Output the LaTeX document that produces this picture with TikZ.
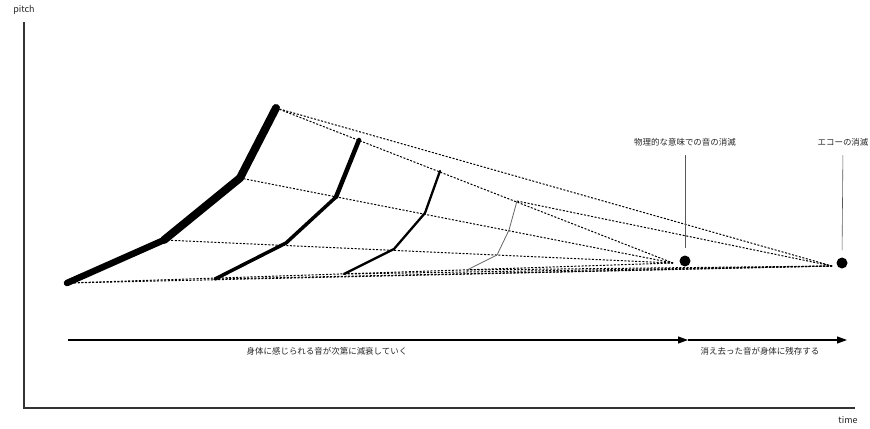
\documentclass[tikz,border=0pt]{standalone}
\usepackage{fontspec}
\setmainfont{Noto Sans CJK JP}
\usetikzlibrary{arrows.meta}
\begin{document}
\begin{tikzpicture}[x=1bp,y=-1bp,
  axis/.style={draw=black!80, line width=1.1bp},
  dotline/.style={draw=black, line width=1bp, dash pattern=on 2bp off 1.6bp},
  lbl/.style={font=\fontsize{8.5}{10}\selectfont, text=black!85, inner sep=0pt},
  pinline/.style={draw=black!65, line width=0.6bp},
  timearrow/.style={draw=black, line width=1.1bp, -{Triangle[length=10bp,width=7bp]}},
  endpoint/.style={circle, fill=black, minimum size=11bp, inner sep=0pt},
  curve/.style={draw=black, line cap=round, line join=round},
  ]
\useasboundingbox (0,0) rectangle (870,428);
% axes
\node[lbl, font=\fontsize{9}{10}\selectfont] (pitch) at (24,10) {pitch};
\node[lbl, font=\fontsize{9}{10}\selectfont] (time) at (848,420) {time};
\coordinate (otop) at (24,22);
\coordinate (o) at (24,408);
\coordinate (xend) at (855,408);
\draw[axis] (otop) -- (o) -- (xend);
% vanishing points
\coordinate (V1) at (673,263);
\coordinate (V2) at (832,266);
% curve points
\coordinate (a1) at (67,283); \coordinate (a2) at (164,240); \coordinate (a3) at (240,178); \coordinate (a4) at (276,108);
\coordinate (b1) at (215,279); \coordinate (b2) at (286,243); \coordinate (b3) at (336,197); \coordinate (b4) at (359,140);
\coordinate (c1) at (344,274); \coordinate (c2) at (394,249); \coordinate (c3) at (425,213); \coordinate (c4) at (440,171);
\coordinate (d1) at (467,270); \coordinate (d2) at (497,255); \coordinate (d3) at (509,230); \coordinate (d4) at (517,201);
% dotted guide lines
\draw[dotline] (a1) -- (V1);
\draw[dotline] (a2) -- (V1);
\draw[dotline] (a3) -- (V1);
\draw[dotline] (a4) -- (V1);
\draw[dotline] (a4) -- (V2);
\draw[dotline] (d4) -- (V2);
\draw[dotline] (a1) -- (V2);
\draw[dotline] (b1) -- (V2);
\draw[dotline] (c1) -- (V2);
\draw[dotline] (d1) -- (V2);
% curves
\draw[curve, line width=6.5bp] (a1) -- (a2);
\draw[curve, line width=8bp] (a2) -- (a3) -- (a4);
\draw[curve, line width=3.5bp] (b1) -- (b2) -- (b3);
\draw[curve, line width=4.5bp] (b3) -- (b4);
\draw[curve, line width=2.3bp] (c1) -- (c2) -- (c3) -- (c4);
\draw[curve, draw=black!60, line width=0.8bp] (d1) -- (d2) -- (d3) -- (d4);
% end points
\node[endpoint] (e1) at (685,261) {};
\node[endpoint] (e2) at (842,263) {};
\node[lbl] (l1) at (685,142) {物理的な意味での音の消滅};
\node[lbl] (l2) at (843,142) {エコーの消滅};
\draw[pinline, shorten <=9bp, shorten >=7bp] (l1.south) -- (e1.north);
\draw[pinline, shorten <=9bp, shorten >=7bp] (l2.south) -- (e2.north);
% time arrows
\coordinate (t0) at (68,340);
\coordinate (t1) at (688,340);
\coordinate (t2) at (847,340);
\draw[timearrow] (t0) -- (t1);
\draw[timearrow] (t1) -- (t2);
\node[lbl] (s1) at (327,351) {身体に感じられる音が次第に減衰していく};
\node[lbl] (s2) at (760,351) {消え去った音が身体に残存する};
\end{tikzpicture}
\end{document}
